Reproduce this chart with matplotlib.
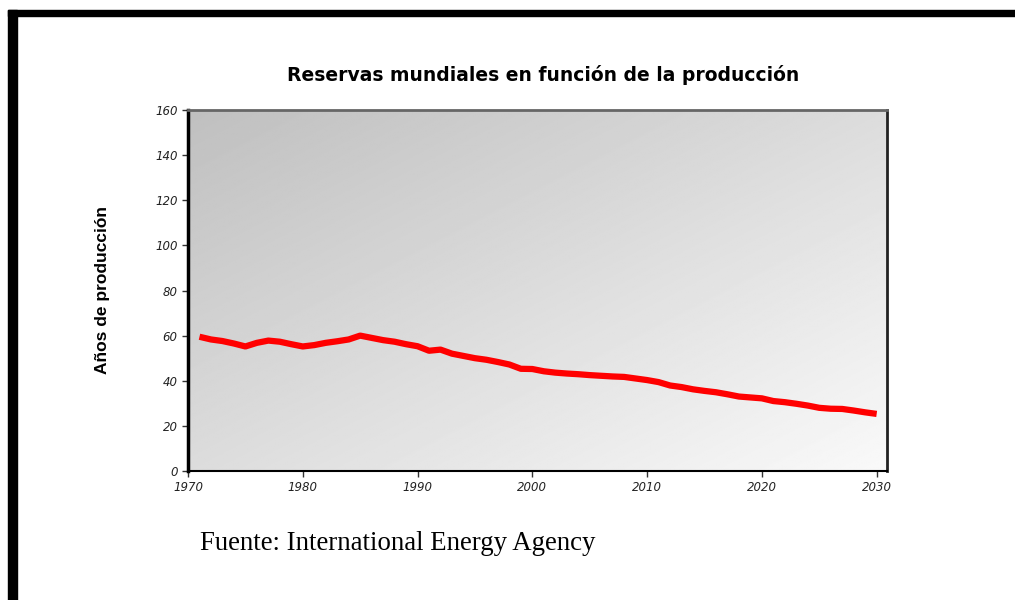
import numpy as np
import matplotlib
matplotlib.use("Agg")
import matplotlib.pyplot as plt
from matplotlib.patches import Rectangle

# Data
years = list(range(1971, 2031))
reservas = [59.5, 58.3, 57.6, 56.5, 55.2, 56.8, 57.8, 57.3, 56.2, 55.2,
            55.8, 56.8, 57.5, 58.3, 60.0, 59.0, 58.0, 57.3, 56.2, 55.3,
            53.3, 53.8, 52.0, 51.0, 50.0, 49.3, 48.3, 47.2, 45.3, 45.2,
            44.2, 43.6, 43.2, 42.9, 42.5, 42.2, 41.9, 41.7, 41.0, 40.3,
            39.4, 37.9, 37.2, 36.2, 35.5, 34.9, 34.0, 33.0, 32.6, 32.2,
            31.0, 30.5, 29.8, 29.0, 28.0, 27.6, 27.5, 26.8, 26.0, 25.3]
x_ticks = [1970, 1980, 1990, 2000, 2010, 2020, 2030]
y_ticks = [0, 20, 40, 60, 80, 100, 120, 140, 160]

titulo = "Reservas mundiales en función de la producción"
ylabel = "Años de producción"
fuente = "Fuente: International Energy Agency"

fig = plt.figure(figsize=(10.15, 6), dpi=100)
fig.patch.set_facecolor("white")

# black frame bars (top and left)
fig.patches.append(Rectangle((8 / 1015, 1 - 16 / 600), 1, 6 / 600,
                             transform=fig.transFigure, color="black", zorder=5))
fig.patches.append(Rectangle((8 / 1015, 0), 9 / 1015, 1 - 10 / 600,
                             transform=fig.transFigure, color="black", zorder=5))

ax = fig.add_axes([188 / 1015, 129 / 600, 699 / 1015, 361 / 600])

# diagonal gray gradient: dark top-left, near white bottom-right
gx, gy = np.meshgrid(np.linspace(0, 1, 300), np.linspace(0, 1, 300))
grad = (gx + gy) / 2.0
ax.imshow(grad, extent=[0, 1, 0, 1], transform=ax.transAxes, origin="upper",
          cmap="gray", vmin=-3.3, vmax=1.1, aspect="auto", zorder=0)

ax.plot(years, reservas, color="#ff0000", linewidth=4.5, solid_capstyle="butt", zorder=3)

ax.set_xlim(1970, 2030.9)
ax.set_ylim(0, 160)
ax.set_xticks(x_ticks)
ax.set_yticks(y_ticks)
ax.tick_params(axis="both", direction="out", length=4, width=1, color="#333333",
               labelsize=8.5, labelcolor="#222222")
for lab in ax.get_xticklabels() + ax.get_yticklabels():
    lab.set_fontstyle("italic")

ax.spines["left"].set_linewidth(2.5)
ax.spines["left"].set_color("black")
ax.spines["bottom"].set_linewidth(1.5)
ax.spines["bottom"].set_color("black")
ax.spines["right"].set_linewidth(2)
ax.spines["right"].set_color("#222222")
ax.spines["top"].set_linewidth(2)
ax.spines["top"].set_color("#666666")

fig.text(543 / 1015, 1 - 75 / 600, titulo, ha="center", va="center",
         fontsize=13.5, fontweight="bold", family="DejaVu Sans")
fig.text(103 / 1015, 1 - 290 / 600, ylabel, ha="center", va="center",
         rotation=90, fontsize=12.5, family="Liberation Sans", fontweight="bold")
fig.text(200 / 1015, 1 - 543 / 600, fuente, ha="left", va="center",
         fontsize=19.3, family="Liberation Serif")

fig.savefig("out.png", dpi=100)
